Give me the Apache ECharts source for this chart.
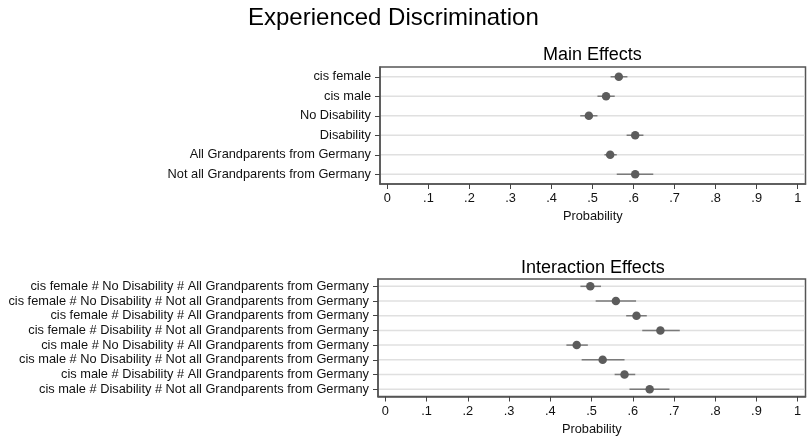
<!DOCTYPE html>
<html><head><meta charset="utf-8">
<script src="https://cdn.jsdelivr.net/npm/echarts@6/dist/echarts.min.js"></script>
<style>html,body{margin:0;padding:0;background:#fff}#c{width:807px;height:439px}</style>
</head><body><div id="c"></div>
<script>
const mainLabels = ['cis female','cis male','No Disability','Disability','All Grandparents from Germany','Not all Grandparents from Germany'];
const mainEst = [0.564, 0.533, 0.491, 0.604, 0.543, 0.604];
const mainLo  = [0.544, 0.512, 0.470, 0.583, 0.529, 0.559];
const mainHi  = [0.585, 0.554, 0.512, 0.624, 0.559, 0.648];

const intLabels = [
 'cis female # No Disability # All Grandparents from Germany',
 'cis female # No Disability # Not all Grandparents from Germany',
 'cis female # Disability # All Grandparents from Germany',
 'cis female # Disability # Not all Grandparents from Germany',
 'cis male # No Disability # All Grandparents from Germany',
 'cis male # No Disability # Not all Grandparents from Germany',
 'cis male # Disability # All Grandparents from Germany',
 'cis male # Disability # Not all Grandparents from Germany'];
const intEst = [0.497, 0.559, 0.609, 0.667, 0.464, 0.527, 0.580, 0.641];
const intLo  = [0.473, 0.510, 0.584, 0.623, 0.439, 0.476, 0.556, 0.592];
const intHi  = [0.523, 0.608, 0.634, 0.714, 0.491, 0.580, 0.606, 0.689];

const xTickValues = [0,0.1,0.2,0.3,0.4,0.5,0.6,0.7,0.8,0.9,1];
const xTickLabels = ['0','.1','.2','.3','.4','.5','.6','.7','.8','.9','1'];

const FONT = "'Liberation Sans', Arial, sans-serif";
const chart = echarts.init(document.getElementById('c'));

function xAxisCfg(gi){
  return {
    gridIndex: gi, type: 'value', min: -0.018, max: 1.019,
    name: 'Probability', nameLocation: 'middle', nameGap: 26,
    nameTextStyle: {fontFamily: FONT, fontSize: 12.8, color: '#111'},
    axisLine: {show: true, onZero: false, lineStyle: {color: '#555', width: 1.5}},
    axisTick: {show: true, inside: false, length: 5, customValues: xTickValues, lineStyle: {color: '#444', width: 1}},
    axisLabel: {customValues: xTickValues, margin: 8, fontFamily: FONT, fontSize: 12.8, color: '#111',
      formatter: v => { const i = xTickValues.findIndex(t => Math.abs(t - v) < 1e-9); return i >= 0 ? xTickLabels[i] : ''; }},
    splitLine: {show: false}
  };
}
function yAxisCfg(gi, labels){
  return {
    gridIndex: gi, type: 'category', data: labels, inverse: true,
    axisLine: {show: true, onZero: false, lineStyle: {color: '#555', width: 1.5}},
    axisTick: {show: true, inside: false, interval: 0, length: 5, alignWithLabel: true, lineStyle: {color: '#444', width: 1}},
    axisLabel: {interval: 0, margin: 9, fontFamily: FONT, fontSize: 12.8, color: '#111'},
    splitLine: {show: false}
  };
}
function ciSeries(gi, lo, hi){
  return {
    type: 'custom', xAxisIndex: gi, yAxisIndex: gi,
    data: lo.map((l, i) => [l, hi[i], i]),
    encode: {x: [0, 1], y: 2},
    renderItem: (params, api) => {
      const cs = params.coordSys;
      const p1 = api.coord([api.value(0), api.value(2)]);
      const p2 = api.coord([api.value(1), api.value(2)]);
      return {type: 'group', children: [
        {type: 'line', shape: {x1: cs.x + 1, y1: p1[1], x2: cs.x + cs.width - 1, y2: p1[1]},
         style: {stroke: '#e0e0e0', lineWidth: 1.5}},
        {type: 'line', shape: {x1: p1[0], y1: p1[1], x2: p2[0], y2: p2[1]},
         style: {stroke: '#7a7a7a', lineWidth: 1.5}}
      ]};
    },
    silent: true, z: 2
  };
}
function ptSeries(gi, est){
  return {
    type: 'scatter', xAxisIndex: gi, yAxisIndex: gi,
    data: est.map((v, i) => [v, i]),
    symbol: 'circle', symbolSize: 8.5,
    itemStyle: {color: '#5c5c5c', opacity: 1},
    silent: true, z: 3
  };
}

chart.setOption({
  backgroundColor: '#fff',
  animation: false,
  title: [
    {text: 'Experienced Discrimination', left: 248, top: 6, padding: 0,
     textStyle: {fontFamily: FONT, fontSize: 24, fontWeight: 'normal', color: '#000'}},
    {text: 'Main Effects', left: 543, top: 46, padding: 0,
     textStyle: {fontFamily: FONT, fontSize: 18, fontWeight: 'normal', color: '#000'}},
    {text: 'Interaction Effects', left: 521, top: 259, padding: 0,
     textStyle: {fontFamily: FONT, fontSize: 18, fontWeight: 'normal', color: '#000'}}
  ],
  grid: [
    {left: 380, right: 1.5, top: 67, height: 117, show: true, borderColor: '#555', borderWidth: 1.5, backgroundColor: '#fff', containLabel: false},
    {left: 378, right: 1.5, top: 279, height: 117.5, show: true, borderColor: '#555', borderWidth: 1.5, backgroundColor: '#fff', containLabel: false}
  ],
  xAxis: [xAxisCfg(0), xAxisCfg(1)],
  yAxis: [yAxisCfg(0, mainLabels), yAxisCfg(1, intLabels)],
  series: [ciSeries(0, mainLo, mainHi), ptSeries(0, mainEst), ciSeries(1, intLo, intHi), ptSeries(1, intEst)]
});
</script></body></html>
